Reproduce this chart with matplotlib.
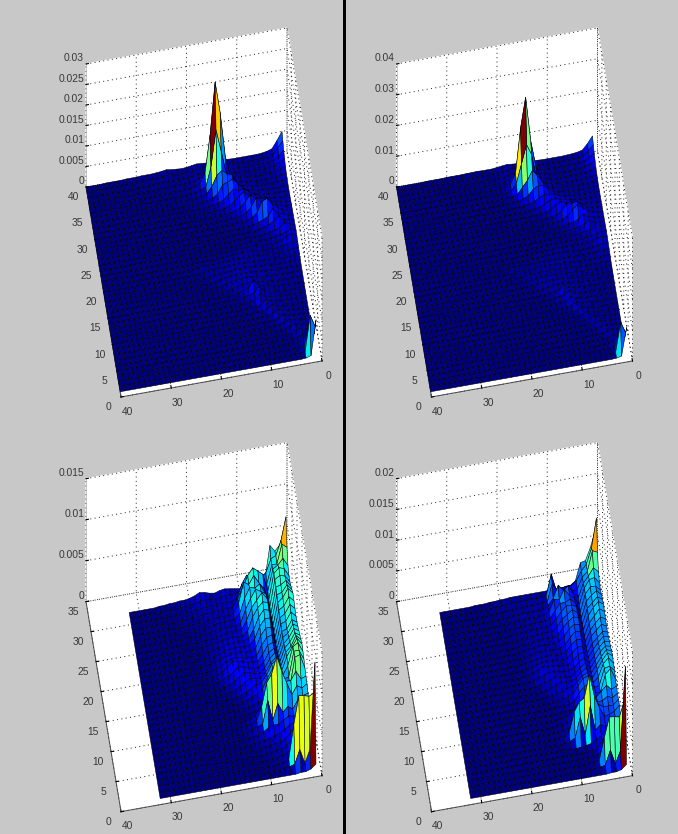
import numpy as np
import matplotlib
matplotlib.use("Agg")
import matplotlib.pyplot as plt
from matplotlib.patches import Rectangle
from matplotlib.transforms import Affine2D
from mpl_toolkits.mplot3d import Axes3D  # noqa

plt.rcParams['font.family'] = ['Liberation Sans', 'DejaVu Sans']
plt.rcParams['grid.linestyle'] = (0, (1, 3.5))
plt.rcParams['grid.color'] = '#202020'
plt.rcParams['grid.linewidth'] = 0.7

# Surface heights, unit 1e-4. Rows run y = ymax ... 1, columns x = 1, 2, ...; omitted cells are 0.
TOP_LEFT_ROWS = [
 [50,30,12,8,6,5,5,5,5,5,5,6,7,8,7,6,7,8,6,4,3,4,5,7,5,4,3,3,3,2,2,2,1,1,1,1],
 [40,25,10,7,6,5,5,5,5,5,6,7,9,11,10,8,8,7,5,4,3,3,4,5,4,3,2,2,2,1,1,1,1],
 [30,18,9,6,5,5,5,5,5,6,7,9,12,16,14,11,9,7,5,4,3,3,3,3,3,2,2,1,1,1],
 [22,14,8,6,5,5,5,5,6,7,9,12,20,38,60,45,18,9,5,4,3,3,3,2,2,1,1,1],
 [16,11,7,6,5,5,5,6,7,8,11,16,68,175,252,125,35,12,6,4,3,2,2,1,1,1],
 [12,9,7,6,5,5,6,7,8,10,14,22,40,96,150,60,14,8,5,3,2,2,1,1,1],
 [10,8,7,6,6,6,7,8,10,14,20,45,50,60,50,25,10,6,4,3,2,1,1,1],
 [9,8,7,7,7,8,9,11,14,20,35,48,42,38,18,10,6,4,3,2,1,1],
 [9,8,8,8,9,10,12,16,22,32,30,36,25,14,8,5,3,2,2,1,1],
 [9,9,9,10,12,14,18,28,24,38,30,18,10,6,4,3,2,1,1],
 [10,10,11,13,16,22,30,28,42,26,14,8,5,3,2,2,1],
 [11,11,13,18,28,40,30,46,24,12,7,4,3,2,1,1],
 [12,13,16,24,34,52,46,22,10,6,4,3,2,1,1],
 [12,14,20,20,38,20,14,9,5,3,2,2,1,1],
 [13,16,16,30,20,12,8,5,3,2,2,2,1,1,1],
 [14,18,24,14,10,8,5,4,3,3,3,3,2,1,1],
 [15,18,14,10,8,5,4,4,4,5,4,3,2,1,1],
 [14,20,16,9,6,5,5,5,6,7,7,6,5,4,3,2,2,1,1,1],
 [12,14,10,7,5,5,5,6,7,8,8,8,7,6,5,4,3,3,3,2,1,1],
 [10,10,7,6,5,5,6,6,7,8,8,8,8,8,7,6,5,5,5,6,3,1,1],
 [8,7,6,5,5,5,6,6,7,8,8,9,9,9,8,7,6,6,6,3,1,1],
 [6,6,5,5,5,5,6,7,7,8,9,10,10,9,8,8,7,6,3,1,1],
 [5,5,5,5,5,6,6,7,8,9,10,11,10,10,9,8,6,2,1],
 [5,5,5,5,5,6,6,7,8,10,12,12,12,11,9,5,2,1],
 [5,5,5,5,5,5,6,7,9,11,12,12,10,8,4,2,1],
 [4,4,4,5,5,5,6,8,10,14,30,12,8,4,2,1],
 [4,4,4,4,5,5,6,8,10,24,12,8,4,2,1],
 [4,4,4,4,5,5,7,8,10,20,7,3,2,1],
 [4,4,4,4,5,6,7,9,16,6,3,2,1],
 [4,4,4,4,5,6,8,14,5,2,2,1],
 [4,4,4,5,6,8,14,5,2,2,1],
 [5,4,5,6,7,12,5,2,1,1],
 [5,5,6,7,10,6,2,1,1],
 [6,6,6,10,7,2,1,1],
 [8,6,10,7,2,1,1],
 [10,8,6,3,1,1],
 [20,25,8,2,1],
 [30,50,6,1],
 [60,90,3,1],
 [90,5,1],
]
TOP_RIGHT_ROWS = [
 [52,30,12,8,6,5,4,4,4,4,4,5,6,7,7,6,7,9,7,5,3,3,3,4,3,3,2,2,2,2,1,1,1,1],
 [40,24,10,7,5,5,4,4,4,4,5,6,8,10,10,9,9,8,5,4,3,2,3,3,3,2,2,1,1,1],
 [30,18,9,6,5,4,4,4,5,5,6,8,12,18,18,14,11,8,5,4,3,2,2,2,2,1,1,1],
 [22,14,8,6,5,4,4,5,5,6,8,11,20,42,72,65,24,10,5,3,3,2,2,1,1,1],
 [16,11,7,6,5,5,5,5,6,7,10,15,60,143,287,190,45,14,6,3,2,2,1,1],
 [12,9,7,6,5,5,5,6,7,9,13,20,35,115,150,90,30,8,4,3,2,1,1],
 [10,8,7,6,6,6,6,7,9,12,18,40,60,80,50,30,10,5,3,2,1,1],
 [9,8,7,7,7,7,8,10,12,18,28,42,45,36,18,10,5,3,2,1,1],
 [9,8,8,8,8,9,11,14,18,26,28,30,22,12,7,4,3,2,1,1],
 [9,9,9,9,10,12,15,20,22,28,26,16,9,5,3,2,2,1,1],
 [10,10,10,11,13,18,26,24,32,24,12,7,4,3,2,1,1],
 [11,11,12,16,26,42,38,40,20,10,6,4,3,2,1,1],
 [12,13,15,24,34,48,36,18,9,5,3,3,2,1],
 [12,14,16,18,32,18,12,8,5,3,2,2,1,1],
 [13,14,15,26,16,10,7,5,3,2,2,2,1,1],
 [14,16,20,12,9,7,5,4,3,3,3,3,2,1],
 [15,16,12,9,7,5,4,4,4,4,4,3,2,1,1],
 [14,18,14,8,5,5,4,5,5,6,6,5,4,3,3,2,1,1],
 [12,12,9,6,5,4,5,5,6,7,7,7,6,5,4,3,3,2,2,1],
 [10,9,7,5,5,4,5,5,6,7,7,7,7,7,6,5,5,5,5,5,2,1],
 [8,7,5,5,4,5,5,5,6,7,7,8,8,8,7,6,5,5,5,2,1],
 [6,5,5,4,4,5,5,6,6,7,8,8,8,8,7,7,6,5,2,1],
 [5,5,4,4,5,5,5,6,7,8,8,9,9,8,8,7,5,2,1],
 [5,4,4,4,5,5,5,6,7,8,10,10,10,9,8,4,2,1],
 [4,4,4,4,4,5,5,6,8,9,10,10,9,7,3,2,1],
 [4,4,4,4,4,5,5,7,9,12,22,10,7,3,2,1],
 [4,4,4,4,4,5,5,7,9,20,10,7,3,2,1],
 [4,4,4,4,4,5,6,7,9,16,6,3,2,1],
 [4,4,4,4,4,5,6,8,14,5,3,2,1],
 [4,4,4,4,4,6,7,12,4,2,2,1],
 [4,4,4,4,5,6,12,4,2,2,1],
 [5,4,4,5,6,11,4,2,1,1],
 [5,4,5,6,9,5,2,1,1],
 [6,5,6,9,6,2,1,1],
 [7,6,9,6,2,1,1],
 [10,7,6,3,1,1],
 [18,22,7,2,1],
 [28,46,5,1],
 [60,98,3,1],
 [95,5,1],
]
BOTTOM_LEFT_ROWS = [
 [70,50,43,51,11,6,5,5,5,5,6,7,8,7,5,6,8,9,6,4,3,3,2,2,1,1],
 [90,62,45,42,26,22,30,22,16,10,7,7,7,6,5,5,6,6,4,3,2,2,1,1,1],
 [60,65,42,42,20,25,38,30,35,25,8,6,6,6,5,5,5,4,3,2,2,1,1,1],
 [45,55,48,44,18,40,45,50,42,28,16,6,6,5,5,5,4,3,2,2,1,1],
 [40,50,52,46,15,30,38,48,38,42,18,6,5,5,5,4,3,2,2,1,1],
 [40,48,50,46,14,32,44,40,42,30,12,6,6,5,5,4,3,2,1,1],
 [42,50,46,44,12,38,42,46,36,24,8,6,6,6,5,4,3,2,1,1],
 [45,52,44,42,12,40,48,40,32,18,7,7,7,6,5,4,3,2,1],
 [48,55,45,40,12,42,44,38,28,12,7,7,8,7,6,4,3,2,1],
 [46,52,42,38,12,40,42,34,20,10,8,8,8,8,6,5,3,2,1],
 [44,50,40,36,12,38,38,30,16,9,8,9,9,9,7,5,3,2,1],
 [42,48,38,36,12,34,34,26,12,9,9,10,10,10,8,6,3,2,1],
 [42,46,36,34,14,32,30,22,10,9,10,11,12,11,9,6,3,1],
 [44,48,38,34,16,30,28,18,10,10,11,13,14,16,10,5,2,1],
 [46,50,40,34,18,30,26,16,10,10,12,14,15,10,6,3,1],
 [48,52,42,36,20,32,26,16,10,11,13,15,10,6,3,1],
 [50,56,44,38,22,34,28,18,12,12,14,10,6,3,1],
 [52,60,50,40,24,38,34,22,14,12,9,5,3,1],
 [50,62,58,36,26,40,36,26,14,8,5,3,1],
 [48,60,60,30,28,36,30,25,8,5,3,2,1],
 [44,62,60,25,30,30,28,12,5,3,2,1],
 [42,40,50,40,40,42,40,34,26,14,6,3,1],
 [40,36,40,30,45,60,80,60,50,22,6,3,2,1],
 [36,34,30,20,24,18,30,10,36,8,6,3,1],
 [34,30,26,18,20,16,12,12,10,6,3,2,1],
 [36,32,28,18,16,12,8,6,4,3,2,1],
 [40,36,30,22,14,8,5,4,3,2,1],
 [44,40,34,26,14,6,4,3,2,1],
 [50,42,36,28,14,5,3,2,1],
 [80,77,79,80,46,5,2,1],
 [125,20,4,22,5,3,2,1],
 [8,3,1,1],
]
BOTTOM_RIGHT_ROWS = [
 [90,62,42,40,12,6,5,5,5,5,4,4,4,4,4,4,4,4,3,3,2,2,1,1,1],
 [118,70,46,36,22,16,16,14,12,40,6,5,5,4,4,4,4,4,3,2,2,1,1],
 [72,76,44,36,18,16,20,18,22,34,6,5,5,5,4,4,4,3,2,2,1,1],
 [50,58,46,36,14,22,36,30,40,20,10,5,5,4,4,4,3,3,2,1,1],
 [42,52,50,38,12,24,30,42,26,28,10,5,4,4,4,3,3,2,1,1],
 [40,48,48,38,11,26,34,30,30,20,8,5,5,4,4,3,3,2,1,1],
 [42,50,44,36,10,30,34,34,26,16,7,5,5,5,4,3,3,2,1],
 [44,50,42,34,10,30,36,30,24,13,6,6,6,5,4,3,2,1,1],
 [46,52,44,32,10,32,34,28,20,10,6,6,6,6,4,3,2,1],
 [44,50,40,30,10,30,32,26,16,8,6,6,7,6,5,4,2,1],
 [42,46,38,28,10,28,30,22,12,7,6,7,7,7,5,4,2,1],
 [40,44,36,28,10,26,26,20,10,7,7,8,8,7,6,4,2,1],
 [40,42,34,26,12,24,24,16,8,7,8,9,9,9,7,4,2,1],
 [42,44,36,26,14,24,22,14,8,8,9,10,11,12,7,4,2,1],
 [44,46,38,26,14,24,20,12,8,8,9,11,11,8,5,2,1],
 [46,48,40,28,16,26,20,12,8,9,10,11,8,5,2,1],
 [48,52,42,30,18,28,22,14,10,10,11,8,5,2,1],
 [50,56,46,32,20,30,26,18,11,10,7,4,2,1],
 [48,58,50,30,22,34,32,22,10,6,4,2,1],
 [46,54,52,26,24,32,28,20,6,4,2,2,1],
 [42,60,52,24,26,28,26,10,4,3,2,1],
 [40,36,44,36,28,30,30,26,18,8,4,2,1],
 [38,32,36,30,30,32,34,28,22,8,4,2,1],
 [38,30,30,30,36,40,40,30,20,8,4,2,1],
 [38,30,26,24,40,60,97,60,55,40,8,3,1],
 [30,28,24,18,22,14,56,10,40,8,3,1],
 [38,32,28,22,14,8,4,2,1],
 [38,34,30,28,16,3,2,1],
 [25,28,26,22,14,3,1],
 [95,69,71,72,40,5,2,1],
 [160,24,4,28,5,3,2,1],
 [10,3,1,1],
]
X_TICKS = [0, 10, 20, 30, 40]
Y_TICKS_TOP = [0, 5, 10, 15, 20, 25, 30, 35, 40]
Y_TICKS_BOTTOM = [0, 5, 10, 15, 20, 25, 30, 35]
Z_TICKS_A = [0, 0.005, 0.01, 0.015, 0.02, 0.025, 0.03]
Z_TICKS_B = [0, 0.01, 0.02, 0.03, 0.04]
Z_TICKS_C = [0, 0.005, 0.01, 0.015]
Z_TICKS_D = [0, 0.005, 0.01, 0.015, 0.02]

W, H = 678, 834
fig = plt.figure(figsize=(W / 100, H / 100), dpi=100, facecolor='#c8c8c8')
fig.add_artist(Rectangle((342.5 / W, 0), 3 / W, 1, transform=fig.transFigure,
                         facecolor='black', edgecolor='none', zorder=5))


def draw_panel(dx, dy, rows, ymax, zticks):
    size = 420
    ax = fig.add_axes([(dx - 5) / W, 1 - (dy + 5 + size) / H, size / W, size / H],
                      projection='3d')
    ax.patch.set_visible(False)
    n = len(rows)
    Z = np.zeros((n, n))
    for i, row in enumerate(rows):
        Z[n - 1 - i, :len(row)] = row
    Z = Z * 1e-4
    xs = np.arange(1, n + 1)
    X, Y = np.meshgrid(xs, xs)
    # each face takes its colour from its low-x, high-y corner
    Zc = Z.copy()
    Zc[:-1, :] = Z[1:, :]
    colors = plt.cm.jet(Zc / Z.max())
    surf = ax.plot_surface(X, Y, Z, rstride=1, cstride=1, facecolors=colors,
                           shade=False, linewidth=0.38, antialiased=True)
    surf.set_edgecolor((0, 0, 0.05, 1))

    zmax = zticks[-1]
    ax.set_xlim(40, 0, view_margin=0)
    ax.set_ylim(0, ymax, view_margin=0)
    ax.set_zlim(0, zmax, view_margin=0)
    ax.set_xticks(X_TICKS)
    ax.set_yticks(Y_TICKS_TOP if ymax == 40 else Y_TICKS_BOTTOM)
    ax.set_zticks(zticks)
    ax.set_zticklabels([('%g' % z) for z in zticks])

    for axis in (ax.xaxis, ax.yaxis, ax.zaxis):
        axis.set_pane_color((1, 1, 1, 1))
        axis.pane.set_edgecolor('white')
        axis.line.set_color('#505050')
        axis.line.set_linewidth(0.8)
        axis.set_tick_params(labelsize=7.4, labelcolor='#383838', pad=-2)
        axis._axinfo['tick']['color'] = '#505050'
        axis._axinfo['tick']['outward_factor'] = 0.15
        axis._axinfo['tick']['inward_factor'] = 0.0
    ax.zaxis.line.set_color('#b0b0b0')
    ax.zaxis.line.set_linewidth(0.5)

    # Shift tick labels to where the reference puts them (pixels).
    shifts = ((ax.xaxis, 5, 3), (ax.yaxis, -5, 1), (ax.zaxis, 7, 4))
    for axis, sx_, sy_ in shifts:
        trans = ax.transData + Affine2D().translate(sx_, sy_)
        for tick in axis.get_major_ticks():
            tick.label1.get_transform = (lambda t=trans: t)
    for tick in ax.zaxis.get_major_ticks():
        tick.label1.set_horizontalalignment('right')

    # Orthographic view fixed by where the box corners fall in the figure.
    ax.apply_aspect()
    inv = ax.transData.inverted()
    to2d = lambda px, py: inv.transform((px + dx, H - (py + dy)))
    o = to2d(322, 361)         # x=0, y=0, z=0
    vx = to2d(121, 397) - o    # x from 0 to 40
    vy = to2d(86, 187) - to2d(121, 397)   # y from 0 to ymax
    vz = to2d(86, 64) - to2d(86, 187)     # z from 0 to zmax
    sx, sy, sz = 1 / 40, 1 / ymax, 1 / zmax
    M = np.array([
        [vx[0] * sx, vy[0] * sy, vz[0] * sz, o[0]],
        [vx[1] * sx, vy[1] * sy, vz[1] * sz, o[1]],
        [-0.03 * sx, 1.0 * sy, -0.12 * sz, 0.03],
        [0, 0, 0, 1.0],
    ])
    ax.get_proj = lambda: M
    return ax


draw_panel(0, 0, TOP_LEFT_ROWS, 40, Z_TICKS_A)
draw_panel(310.5, 0, TOP_RIGHT_ROWS, 40, Z_TICKS_B)
draw_panel(0, 414.7, BOTTOM_LEFT_ROWS, 35, Z_TICKS_C)
draw_panel(310.5, 414.7, BOTTOM_RIGHT_ROWS, 35, Z_TICKS_D)

fig.savefig('out.png', dpi=100, facecolor=fig.get_facecolor())
